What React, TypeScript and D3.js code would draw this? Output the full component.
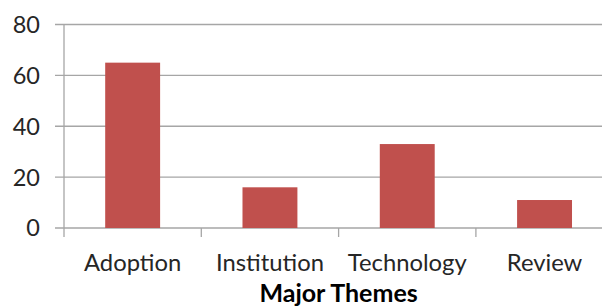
import React from "react";
import * as d3 from "d3";

const categories = ["Adoption", "Institution", "Technology", "Review"];
const values = [65, 16, 33, 11];
const yTicks = [0, 20, 40, 60, 80];
const xTitle = "Major Themes";

const W = 602;
const H = 306;

export default function App() {
  const left = 64;
  const right = 613.2;
  const top = 24.5;
  const bottom = 228;
  const x = d3
    .scaleBand<string>()
    .domain(categories)
    .range([left, right])
    .paddingInner(0.6)
    .paddingOuter(0.3);
  const y = d3.scaleLinear().domain([0, 80]).range([bottom, top]);
  const step = x.step();
  const grid = "#a6a6a6";
  const font = "Lato, 'Open Sans', sans-serif";
  const textColor = "#262626";
  return (
    <svg
      width={W}
      height={H}
      style={{ position: "absolute", left: 0, top: 0, background: "#fff" }}
    >
      {yTicks.map((t) => (
        <g key={t}>
          <line x1={55} x2={W} y1={y(t)} y2={y(t)} stroke={grid} strokeWidth={1.3} />
          <text
            x={40}
            y={y(t)}
            dy="0.36em"
            textAnchor="end"
            fontFamily={font}
            fontSize={23.5}
            fill={textColor}
          >
            {t}
          </text>
        </g>
      ))}
      <line x1={left} x2={left} y1={top} y2={bottom + 9} stroke={grid} strokeWidth={1.3} />
      {categories.map((c, i) => (
        <line
          key={"t" + c}
          x1={left + step * (i + 1)}
          x2={left + step * (i + 1)}
          y1={bottom}
          y2={bottom + 9}
          stroke={grid}
          strokeWidth={1.3}
        />
      ))}
      {categories.map((c, i) => (
        <rect
          key={c}
          x={x(c)!}
          y={y(values[i])}
          width={x.bandwidth()}
          height={bottom - y(values[i])}
          fill="#c0504d"
        />
      ))}
      {categories.map((c) => (
        <text
          key={"l" + c}
          x={x(c)! + x.bandwidth() / 2}
          y={271}
          textAnchor="middle"
          fontFamily={font}
          fontSize={23.8}
          fill={textColor}
        >
          {c}
        </text>
      ))}
      <text
        x={(left + right) / 2}
        y={302}
        textAnchor="middle"
        fontFamily={font}
        fontSize={25}
        fontWeight="bold"
        fill="#000"
      >
        {xTitle}
      </text>
    </svg>
  );
}
